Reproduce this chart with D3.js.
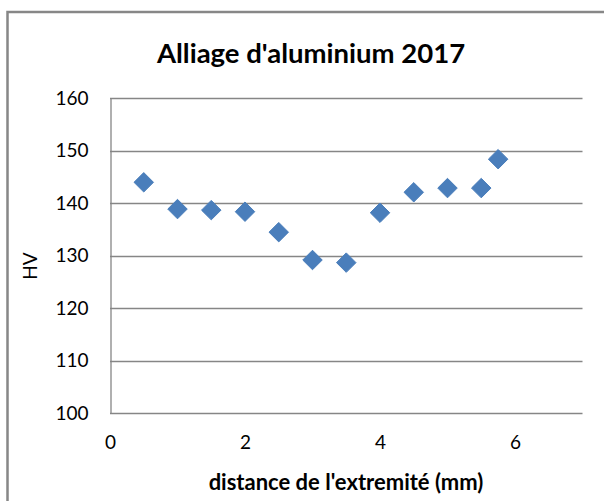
<!DOCTYPE html>
<html>
<head>
<meta charset="utf-8">
<script src="https://cdn.jsdelivr.net/npm/d3@7"></script>
<style>
  body { margin: 0; background: #fff; }
  svg { display: block; }
  text { font-family: Lato, "Open Sans", sans-serif; fill: #000; }
</style>
</head>
<body>
<svg width="604" height="501"></svg>
<script>
// Data
const distance = [0.5, 1, 1.5, 2, 2.5, 3, 3.5, 4, 4.5, 5, 5.5, 5.75];
const hardness = [144, 138.9, 138.7, 138.4, 134.5, 129.2, 128.7, 138.2, 142.1, 142.9, 142.9, 148.4];
const xTicks = [0, 2, 4, 6];
const yTicks = [100, 110, 120, 130, 140, 150, 160];

const points = distance.map((d, i) => ({ x: d, y: hardness[i] }));

const svg = d3.select('svg');

// Plot area
const plotLeft = 110, plotRight = 582.5, plotTop = 98.3, plotBottom = 413.3;

const x = d3.scaleLinear().domain([0, 7]).range([plotLeft, plotRight]);
const y = d3.scaleLinear().domain([100, 160]).range([plotBottom, plotTop]);

// Outer chart border
svg.append('path')
  .attr('d', `M7.5,501 V12 H604`)
  .attr('fill', 'none')
  .attr('stroke', '#878787')
  .attr('stroke-width', 2.5);

// Title
svg.append('text')
  .attr('x', 311)
  .attr('y', 63)
  .attr('text-anchor', 'middle')
  .attr('font-size', 27.5)
  .attr('font-weight', 'bold')
  .text("Alliage d'aluminium 2017");

// Horizontal gridlines
svg.append('g')
  .selectAll('line')
  .data(yTicks)
  .join('line')
  .attr('x1', plotLeft)
  .attr('x2', plotRight)
  .attr('y1', d => Math.round(y(d)) + 0.5)
  .attr('y2', d => Math.round(y(d)) + 0.5)
  .attr('stroke', '#868686')
  .attr('stroke-width', 1.3);

// Y axis
const yAxis = svg.append('g')
  .attr('transform', `translate(${plotLeft + 0.5},0)`)
  .call(d3.axisLeft(y).tickValues(yTicks).tickSize(0).tickPadding(22));
yAxis.select('.domain').attr('stroke', '#868686').attr('stroke-width', 1.3);
yAxis.selectAll('text').attr('font-size', 19).attr('font-family', 'Lato, sans-serif');

// X axis labels (no line: the 100 gridline is the base)
const xAxis = svg.append('g')
  .attr('transform', `translate(0,${plotBottom})`)
  .call(d3.axisBottom(x).tickValues(xTicks).tickFormat(d3.format('d')).tickSize(0).tickPadding(22));
xAxis.select('.domain').remove();
xAxis.selectAll('text').attr('font-size', 19).attr('font-family', 'Lato, sans-serif');

// Axis titles
svg.append('text')
  .attr('transform', 'translate(37,266) rotate(-90)')
  .attr('text-anchor', 'middle')
  .attr('font-size', 19)
  .text('HV');

svg.append('text')
  .attr('x', 346)
  .attr('y', 490)
  .attr('text-anchor', 'middle')
  .attr('font-size', 22)
  .attr('font-weight', 'bold')
  .text("distance de l'extremité (mm)");

// Diamond markers
const diamond = d3.symbol().type(d3.symbolDiamond2).size(242);
svg.append('g')
  .selectAll('path')
  .data(points)
  .join('path')
  .attr('transform', d => `translate(${x(d.x)},${y(d.y)})`)
  .attr('d', diamond)
  .attr('fill', '#4A7EBB')
  .attr('stroke', '#4A7EBB')
  .attr('stroke-width', 1);
</script>
</body>
</html>
